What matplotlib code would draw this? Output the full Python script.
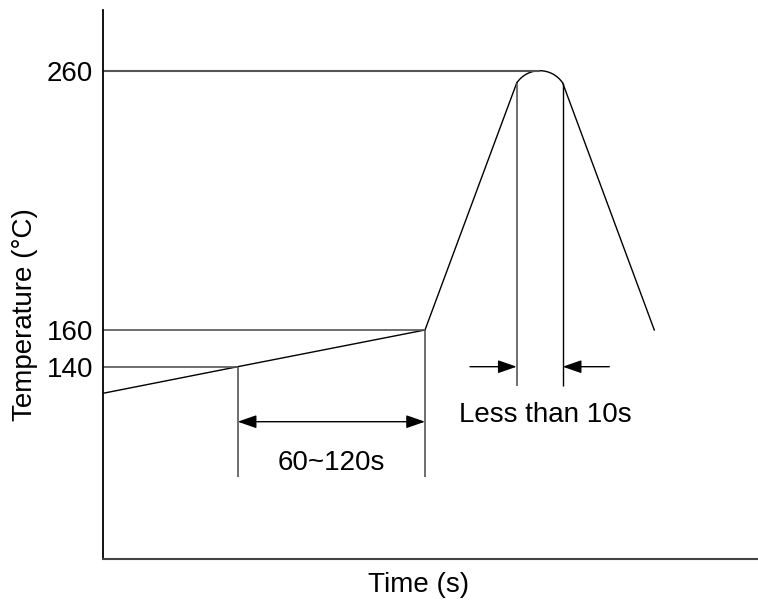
"""
Reflow soldering profile — schematic temperature vs time chart.
Coordinates are schematic (not to scale), as in the original drawing.
"""
import math

import matplotlib
matplotlib.use('Agg')
import matplotlib.pyplot as plt
from matplotlib.patches import Arc

plt.rcParams['font.family'] = ['Liberation Sans', 'DejaVu Sans']

# ── Data (schematic units) ───────────────────────────────────────────────────
# profile polyline: preheat ramp, soak, ramp to peak
rise_x = [0, 134.7, 322, 413.7]
rise_y = [165.7, 192.3, 229, 476]
# cool-down after peak
fall_x = [459.7, 551.3]
fall_y = [476, 229]
# rounded peak top
peak_x = 436.7
peak_top = 488.3

tick_pos = [192.3, 229, 488.3]
tick_labels = ['140', '160', '260']

soak_start, soak_end = 134.7, 322
peak_left, peak_right = 413.7, 459.7

XMAX, YMAX = 655, 549
GUIDE = '#555555'

fig = plt.figure(figsize=(7.58, 6.02), dpi=100)
ax = fig.add_axes([103 / 758, 43 / 602, 655 / 758, 549 / 602])
ax.set_xlim(0, XMAX)
ax.set_ylim(0, YMAX)

# profile curve
ax.plot(rise_x, rise_y, color='black', lw=1.0, solid_joinstyle='miter')
ax.plot(fall_x, fall_y, color='black', lw=1.0)
half_w = (peak_right - peak_left) / 2
rise_h = peak_top - rise_y[-1]
r = (half_w ** 2 + rise_h ** 2) / (2 * rise_h)
ang = math.degrees(math.atan2(r - rise_h, half_w))
ax.add_patch(Arc((peak_x, peak_top - r), 2 * r, 2 * r, theta1=ang,
                 theta2=180 - ang, color='black', lw=1.0))

# horizontal guide lines at 140 / 160 / 260
ax.hlines(tick_pos[0], 0, soak_start, color=GUIDE, lw=1.2)
ax.hlines(tick_pos[1], 0, soak_end, color=GUIDE, lw=1.2)
ax.hlines(tick_pos[2], 0, peak_x, color=GUIDE, lw=1.5)

# soak time span
ax.vlines([soak_start], 82.3, tick_pos[0], color=GUIDE, lw=1.2)
ax.vlines([soak_end], 82.3, tick_pos[1], color=GUIDE, lw=1.2)
arrow = dict(arrowstyle='<|-|>,head_length=1.15,head_width=0.4',
             mutation_scale=10, color='black', lw=1.0,
             shrinkA=0, shrinkB=0)
ax.annotate('', xy=(soak_start, 137.3), xytext=(soak_end, 137.3),
            arrowprops=arrow)
ax.text((soak_start + soak_end) / 2, 96, '60~120s', fontsize=20,
        ha='center', va='center')

# time above peak
ax.vlines([peak_left], 173.3, rise_y[-1], color=GUIDE, lw=1.2)
ax.vlines([peak_right], 173.3, fall_y[0], color='black', lw=1.0)
one_way = dict(arrowstyle='-|>,head_length=1.15,head_width=0.4',
               mutation_scale=10, color='black', lw=1.0,
               shrinkA=0, shrinkB=0)
ax.annotate('', xy=(peak_left, 192.3), xytext=(367, 192.3),
            arrowprops=one_way)
ax.annotate('', xy=(peak_right, 192.3), xytext=(506.3, 192.3),
            arrowprops=one_way)
ax.text(442, 144, 'Less than 10s', fontsize=20, ha='center', va='center')

# axes styling
ax.spines[['top', 'right']].set_visible(False)
ax.spines['left'].set_color('black')
ax.spines['left'].set_linewidth(1.3)
ax.spines['bottom'].set_color('#444444')
ax.spines['bottom'].set_linewidth(1.5)
ax.set_xticks([])
ax.set_yticks(tick_pos)
ax.set_yticklabels(tick_labels, fontsize=20)
ax.tick_params(axis='y', length=0, pad=7)

ax.set_xlabel('Time (s)', fontsize=20)
ax.xaxis.set_label_coords((419 - 103) / 655, (559 - 572) / 549)
ax.set_ylabel('Temperature (°C)', fontsize=20)
ax.yaxis.set_label_coords((38 - 103) / 655, (559 - 315) / 549)

fig.savefig('out.png', dpi=100)
